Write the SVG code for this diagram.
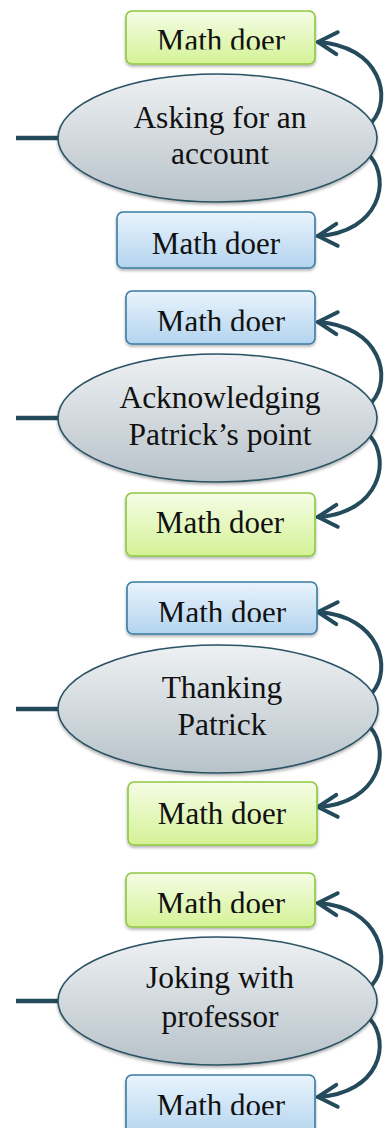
<svg xmlns="http://www.w3.org/2000/svg" width="392" height="1128" viewBox="0 0 392 1128">
<style>
.t{font-family:"Liberation Serif","Times New Roman",serif;fill:#111;text-anchor:middle}
.bt{font-size:31px}
.et{font-size:31.5px}
.green{fill:url(#gGreen);stroke:#8ec741;stroke-width:1.6}
.blue{fill:url(#gBlue);stroke:#3a7ca3;stroke-width:1.6}
.ell{fill:url(#gEll);stroke:#2a5264;stroke-width:1.6}
.conn{fill:none;stroke:#244b5b;stroke-width:4;stroke-linecap:round}
.lead{fill:none;stroke:#244b5b;stroke-width:4.5}
.arr{marker-end:url(#ah)}
</style>
<defs>
<linearGradient id="gGreen" x1="0" y1="0" x2="0" y2="1"><stop offset="0" stop-color="#f5fde6"/><stop offset="1" stop-color="#d4f296"/></linearGradient>
<linearGradient id="gBlue" x1="0" y1="0" x2="0" y2="1"><stop offset="0" stop-color="#e9f3fc"/><stop offset="1" stop-color="#b3d4ef"/></linearGradient>
<linearGradient id="gEll" x1="0" y1="0" x2="0" y2="1"><stop offset="0" stop-color="#eef1f3"/><stop offset="1" stop-color="#b7c2c9"/></linearGradient>
<filter id="sh" x="-10%" y="-10%" width="120%" height="130%"><feDropShadow dx="0" dy="2" stdDeviation="1.5" flood-color="#000" flood-opacity="0.3"/></filter>
<marker id="ah" markerUnits="userSpaceOnUse" markerWidth="40" markerHeight="40" viewBox="-25 -20 30 40" refX="0" refY="0" orient="auto" overflow="visible"><path d="M-19,-11 L0,0 L-19,11" fill="none" stroke="#244b5b" stroke-width="4" stroke-linecap="round" stroke-linejoin="round"/></marker>
<clipPath id="c1" clipPathUnits="userSpaceOnUse"><rect x="0" y="0" width="392" height="49.5"/></clipPath>
<clipPath id="c2" clipPathUnits="userSpaceOnUse"><rect x="0" y="280" width="392" height="51"/></clipPath>
<clipPath id="c3" clipPathUnits="userSpaceOnUse"><rect x="0" y="570" width="392" height="52"/></clipPath>
<clipPath id="c4" clipPathUnits="userSpaceOnUse"><rect x="0" y="860" width="392" height="53"/></clipPath>
<clipPath id="c5" clipPathUnits="userSpaceOnUse"><rect x="0" y="1070" width="392" height="45"/></clipPath>
</defs>

<g id="connectors">
<path class="lead" d="M16,138 L58,138"/>
<path class="conn arr" d="M372,122 C393,98 380,46 318,42"/>
<path class="conn arr" d="M370,156 C391,180 380,232 318,236"/>
<path class="lead" d="M16,418 L58,418"/>
<path class="conn arr" d="M372,402 C393,378 380,326 318,322"/>
<path class="conn arr" d="M370,436 C391,460 380,513 318,517"/>
<path class="lead" d="M16,709 L58,709"/>
<path class="conn arr" d="M372,693 C393,669 380,616 318,612"/>
<path class="conn arr" d="M370,727 C391,751 380,803 318,807"/>
<path class="lead" d="M16,1001 L58,1001"/>
<path class="conn arr" d="M372,985 C393,961 380,907 318,903"/>
<path class="conn arr" d="M370,1019 C391,1043 380,1093 318,1097"/>
</g>

<g id="p1-top">
<rect class="green" x="126" y="11" width="189" height="53" rx="6" filter="url(#sh)"/>
<text class="t bt" x="221" y="51" clip-path="url(#c1)">Math doer</text>
</g>
<g id="p1-ellipse">
<ellipse class="ell" cx="217.5" cy="138" rx="159.5" ry="64" filter="url(#sh)"/>
<text class="t et" x="220" y="128">Asking for an</text>
<text class="t et" x="220" y="164">account</text>
</g>
<g id="p1-bottom">
<rect class="blue" x="117" y="212" width="198" height="56" rx="6" filter="url(#sh)"/>
<text class="t bt" x="216" y="254">Math doer</text>
</g>

<g id="p2-top">
<rect class="blue" x="126" y="291" width="189" height="53" rx="6" filter="url(#sh)"/>
<text class="t bt" x="221" y="332" clip-path="url(#c2)">Math doer</text>
</g>
<g id="p2-ellipse">
<ellipse class="ell" cx="217.5" cy="418" rx="159.5" ry="64" filter="url(#sh)"/>
<text class="t et" x="220" y="408">Acknowledging</text>
<text class="t et" x="220" y="445">Patrick’s point</text>
</g>
<g id="p2-bottom">
<rect class="green" x="126" y="493" width="189" height="63" rx="6" filter="url(#sh)"/>
<text class="t bt" x="220" y="533">Math doer</text>
</g>

<g id="p3-top">
<rect class="blue" x="127" y="582" width="190" height="52" rx="6" filter="url(#sh)"/>
<text class="t bt" x="222" y="623" clip-path="url(#c3)">Math doer</text>
</g>
<g id="p3-ellipse">
<ellipse class="ell" cx="218" cy="709" rx="160" ry="64" filter="url(#sh)"/>
<text class="t et" x="222" y="698">Thanking</text>
<text class="t et" x="222" y="735">Patrick</text>
</g>
<g id="p3-bottom">
<rect class="green" x="128" y="782" width="189" height="63" rx="6" filter="url(#sh)"/>
<text class="t bt" x="222" y="824">Math doer</text>
</g>

<g id="p4-top">
<rect class="green" x="126" y="873" width="189" height="54" rx="6" filter="url(#sh)"/>
<text class="t bt" x="221" y="914" clip-path="url(#c4)">Math doer</text>
</g>
<g id="p4-ellipse">
<ellipse class="ell" cx="217.5" cy="1001" rx="159.5" ry="64" filter="url(#sh)"/>
<text class="t et" x="220" y="988">Joking with</text>
<text class="t et" x="220" y="1027">professor</text>
</g>
<g id="p4-bottom">
<rect class="blue" x="126" y="1075" width="189" height="62" rx="6" filter="url(#sh)"/>
<text class="t bt" x="221" y="1116" clip-path="url(#c5)">Math doer</text>
</g>
</svg>
